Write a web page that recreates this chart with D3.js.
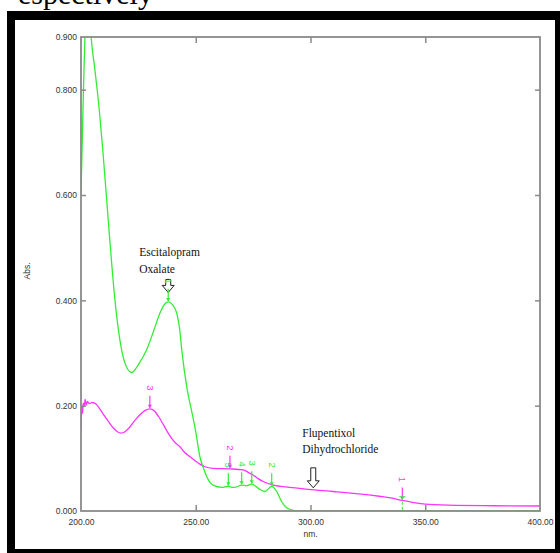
<!DOCTYPE html>
<html>
<head>
<meta charset="utf-8">
<script src="https://cdn.jsdelivr.net/npm/d3@7"></script>
<style>
  body { margin: 0; background: #fff; }
  svg { display: block; }
</style>
</head>
<body>
<div id="chart"></div>
<script>
// wavelength (nm) / absorbance pairs
var escitalopram = [
  [200, 0.60], [200.8, 0.75], [201.7, 0.90], [202.5, 0.95], [203.5, 0.96], [204.4, 0.90],
  [206, 0.84], [208, 0.76], [209.5, 0.685], [212.3, 0.528], [214.8, 0.40], [217.7, 0.306],
  [220, 0.272], [222.1, 0.263], [225, 0.278], [228.6, 0.306], [231.5, 0.34], [234.4, 0.376],
  [236.5, 0.393], [238, 0.397], [239.8, 0.392], [241.7, 0.376], [243, 0.345], [243.9, 0.306],
  [246.3, 0.23], [248.2, 0.19], [250.1, 0.148], [251.8, 0.103], [253.5, 0.08], [254.8, 0.065],
  [257.6, 0.049], [261.3, 0.045], [264.2, 0.047], [265.7, 0.045], [267.1, 0.045], [270, 0.049],
  [272.2, 0.048], [274.4, 0.051], [277.3, 0.043], [280.2, 0.037], [283.1, 0.047], [285.3, 0.037],
  [287.4, 0.018], [289.6, 0.006], [292.5, 0.001], [295, 0], [400, 0]
];
var flupentixol = [
  [200, 0.155], [200.3, 0.20], [200.6, 0.185], [201, 0.205], [201.4, 0.198], [201.8, 0.212],
  [202.3, 0.201], [202.8, 0.208], [203.5, 0.204], [205, 0.206], [206.5, 0.203], [208.5, 0.192],
  [210, 0.182], [211.8, 0.171], [214, 0.158], [216, 0.15], [217.4, 0.148], [219, 0.15],
  [221, 0.158], [223.5, 0.172], [226, 0.184], [228, 0.191], [230, 0.194], [232, 0.19],
  [234, 0.178], [236, 0.163], [238, 0.148], [241, 0.13], [243.1, 0.122], [245, 0.112],
  [247.5, 0.103], [251.8, 0.089], [254, 0.084], [257.6, 0.081], [264.9, 0.08], [270.7, 0.078],
  [273, 0.073], [275.1, 0.068], [277, 0.062], [279.4, 0.056], [283.8, 0.049], [291.1, 0.045],
  [299, 0.041], [310, 0.037], [320, 0.033], [330, 0.028], [335, 0.025], [340, 0.02],
  [345, 0.016], [350, 0.013], [360, 0.011], [380, 0.01], [400, 0.0095]
];
// peak picks: [nm, abs, label]
var escitalopramPeaks = [[238, 0.397, "1"], [264.2, 0.047, "5"], [270, 0.049, "4"], [274.4, 0.051, "3"], [283.1, 0.047, "2"]];
var flupentixolPeaks = [[230, 0.194, "3"], [264.9, 0.08, "2"], [340, 0.02, "1"]];
var xTicks = [200, 250, 300, 350, 400];
var yTicks = [0, 0.2, 0.4, 0.6, 0.8, 0.9];
var annotations = [
  {lines: ["Escitalopram", "Oxalate"], nm: 238, abs: 0.415, dx: -29, dy: -36, len: 13},
  {lines: ["Flupentixol", "Dihydrochloride"], nm: 301.2, abs: 0.044, dx: -11, dy: -51, len: 20}
];

var width = 560, height = 553;
var plotLeft = 81, plotRight = 540, plotTop = 37, plotBottom = 511;
var green = "#33ee33", magenta = "#ff33ff", axisColor = "#8a8a8a", textColor = "#333";

var svg = d3.select("#chart").append("svg")
  .attr("width", width)
  .attr("height", height);

// partial caption line from the page above the figure
svg.append("text")
  .attr("x", 18).attr("y", 4)
  .style("font-family", "Liberation Serif, serif")
  .style("font-size", "30px")
  .attr("fill", "#000")
  .text("espectively");

// black frame
svg.append("rect").attr("x", 7).attr("y", 11).attr("width", 560).attr("height", 550).attr("fill", "#000");
svg.append("rect").attr("x", 15).attr("y", 20).attr("width", 540).attr("height", 529).attr("fill", "#fff");

var x = d3.scaleLinear().domain([200, 400]).range([plotLeft, plotRight]);
var y = d3.scaleLinear().domain([0, 0.9]).range([plotBottom, plotTop]);

svg.append("clipPath").attr("id", "plotclip")
  .append("rect").attr("x", plotLeft).attr("y", plotTop)
  .attr("width", plotRight - plotLeft).attr("height", plotBottom - plotTop);

var line = d3.line()
  .x(function(d) { return x(d[0]); })
  .y(function(d) { return y(d[1]); })
  .curve(d3.curveMonotoneX);

var plot = svg.append("g").attr("clip-path", "url(#plotclip)");
plot.append("path").datum(flupentixol)
  .attr("d", line).attr("fill", "none").attr("stroke", magenta).attr("stroke-width", 1.3);
plot.append("path").datum(escitalopram)
  .attr("d", line).attr("fill", "none").attr("stroke", green).attr("stroke-width", 1.3);

// hollow arrows with compound names
annotations.forEach(function(a) {
  var tx = x(a.nm), ty = y(a.abs), h = a.len, hw = 6, sw = 2.5, hh = 7;
  svg.append("path")
    .attr("d", "M" + (tx - sw) + "," + (ty - h) + "L" + (tx + sw) + "," + (ty - h) +
      "L" + (tx + sw) + "," + (ty - hh) + "L" + (tx + hw) + "," + (ty - hh) +
      "L" + tx + "," + ty + "L" + (tx - hw) + "," + (ty - hh) +
      "L" + (tx - sw) + "," + (ty - hh) + "Z")
    .attr("fill", "#fff").attr("stroke", "#222").attr("stroke-width", 1);
  var t = svg.append("text")
    .attr("x", tx + a.dx).attr("y", ty + a.dy)
    .style("font-family", "Liberation Serif, Times New Roman, serif")
    .style("font-size", "11.5px")
    .attr("fill", "#111");
  a.lines.forEach(function(s, i) {
    t.append("tspan").attr("x", tx + a.dx).attr("dy", i === 0 ? 0 : 16.5).text(s);
  });
});

// peak markers
function drawPeaks(peaks, color) {
  var g = svg.append("g");
  peaks.forEach(function(p) {
    var px = x(p[0]), py = y(p[1]);
    g.append("line")
      .attr("x1", px).attr("x2", px)
      .attr("y1", py - 13).attr("y2", py - 1)
      .attr("stroke", color).attr("stroke-width", 1.2);
    g.append("path")
      .attr("d", "M" + (px - 2) + "," + (py - 4) + "L" + (px + 2) + "," + (py - 4) + "L" + px + "," + (py - 0.5) + "Z")
      .attr("fill", color);
    g.append("text")
      .attr("transform", "translate(" + (px - 3) + "," + (py - 21) + ") rotate(90)")
      .attr("text-anchor", "middle")
      .style("font-family", "Liberation Sans, Arial, sans-serif")
      .style("font-size", "9.5px")
      .attr("fill", color)
      .text(p[2]);
  });
}
drawPeaks(escitalopramPeaks, green);
drawPeaks(flupentixolPeaks, magenta);

// dashed green pick line at 340 nm
svg.append("line")
  .attr("x1", x(340)).attr("x2", x(340))
  .attr("y1", y(0.027)).attr("y2", y(0))
  .attr("stroke", green).attr("stroke-width", 1).attr("stroke-dasharray", "3,2");
svg.append("line")
  .attr("x1", x(340) - 3).attr("x2", x(340) + 3)
  .attr("y1", y(0.027)).attr("y2", y(0.027))
  .attr("stroke", green).attr("stroke-width", 1);

// axes, ticks pointing inwards
function styleAxis(g) {
  g.select(".domain").remove();
  g.selectAll(".tick line").attr("stroke", axisColor).attr("stroke-width", 1.5);
  g.selectAll("text")
    .style("font-family", "Liberation Sans, Arial, sans-serif")
    .style("font-size", "8.5px")
    .attr("fill", textColor);
}

svg.append("g").attr("transform", "translate(0," + plotBottom + ")")
  .call(d3.axisBottom(x).tickValues(xTicks).tickSize(-6).tickPadding(8).tickFormat(d3.format(".2f")))
  .call(styleAxis)
  .call(function(g) { g.selectAll(".tick line").filter(function(d) { return d === 200 || d === 400; }).remove(); });

svg.append("g").attr("transform", "translate(0," + plotTop + ")")
  .call(d3.axisTop(x).tickValues(xTicks.slice(1, -1)).tickSize(-6).tickFormat(""))
  .call(styleAxis);

svg.append("g").attr("transform", "translate(" + plotLeft + ",0)")
  .call(d3.axisLeft(y).tickValues(yTicks).tickSize(-5).tickPadding(4).tickFormat(d3.format(".3f")))
  .call(styleAxis)
  .call(function(g) { g.selectAll(".tick line").filter(function(d) { return d === 0 || d === 0.9; }).remove(); });

svg.append("g").attr("transform", "translate(" + plotRight + ",0)")
  .call(d3.axisRight(y).tickValues(yTicks.slice(1, -1)).tickSize(-5).tickFormat(""))
  .call(styleAxis);

svg.append("rect")
  .attr("x", plotLeft).attr("y", plotTop)
  .attr("width", plotRight - plotLeft).attr("height", plotBottom - plotTop)
  .attr("fill", "none").attr("stroke", axisColor).attr("stroke-width", 1.8);

svg.append("text")
  .attr("x", x(300)).attr("y", plotBottom + 26)
  .attr("text-anchor", "middle")
  .style("font-family", "Liberation Sans, Arial, sans-serif")
  .style("font-size", "8.5px")
  .attr("fill", textColor)
  .text("nm.");

svg.append("text")
  .attr("transform", "translate(30," + ((plotTop + plotBottom) / 2 - 3) + ") rotate(-90)")
  .attr("text-anchor", "middle")
  .style("font-family", "Liberation Sans, Arial, sans-serif")
  .style("font-size", "8.5px")
  .attr("fill", textColor)
  .text("Abs.");
</script>
</body>
</html>
